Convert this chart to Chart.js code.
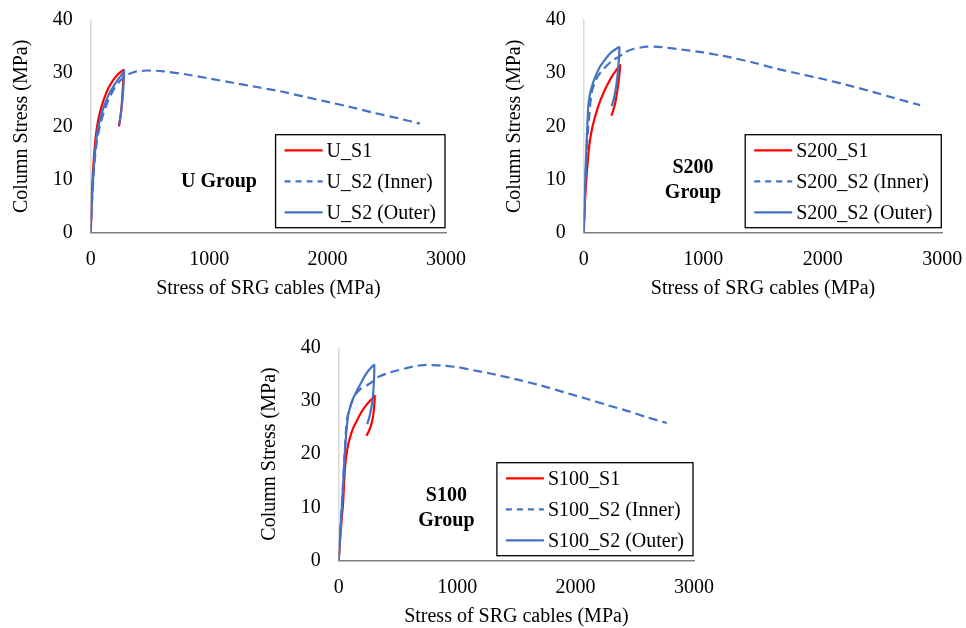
<!DOCTYPE html>
<html>
<head>
<meta charset="utf-8">
<script src="https://cdn.jsdelivr.net/npm/chart.js@4.4.1/dist/chart.umd.min.js"></script>
<style>
  body { margin: 0; background: #fff; width: 966px; height: 628px; position: relative; overflow: hidden; }
  canvas { position: absolute; }
</style>
</head>
<body>
<canvas id="cU" width="480" height="302" style="left:0px;top:0px"></canvas>
<canvas id="cS200" width="473" height="302" style="left:493px;top:0px"></canvas>
<canvas id="cS100" width="470" height="304" style="left:248px;top:325px"></canvas>
<script>
// axis ticks and titles
const xTicks = [0, 1000, 2000, 3000];
const yTicks = [0, 10, 20, 30, 40];
const xTitle = 'Stress of SRG cables (MPa)';
const yTitle = 'Column Stress (MPa)';

// U group  [SRG cable stress, column stress]
const uLabels = ['U_S1', 'U_S2 (Inner)', 'U_S2 (Outer)'];
const uS1 = [[0,0],[8,6],[18,11],[30,15],[45,18.5],[62,21],[85,23.2],[115,25.3],[150,27.2],[190,28.7],[230,29.8],[262,30.4],[278,30.6],[272,27.5],[262,24],[250,21.5],[238,20]];
const uInner = [[0,0],[12,6],[25,11],[40,15],[58,18],[80,20.3],[110,22.6],[150,25],[200,27.2],[250,28.6],[300,29.6],[380,30.3],[480,30.5],[600,30.4],[800,29.8],[1000,29],[1200,28.2],[1400,27.4],[1600,26.6],[1800,25.6],[2000,24.6],[2200,23.6],[2400,22.5],[2600,21.5],[2780,20.5]];
const uOuter = [[0,0],[10,6],[22,11],[36,15],[52,18.3],[70,20.5],[95,22.6],[125,24.5],[160,26.3],[200,27.8],[240,29.1],[270,30],[282,30.5],[278,28],[268,25],[255,22.5],[240,20.3]];

// S200 group
const s200Labels = ['S200_S1', 'S200_S2 (Inner)', 'S200_S2 (Outer)'];
const s200S1 = [[0,0],[11,6],[25,11],[40,15],[53,17.4],[72,19.8],[95,21.8],[128,24.2],[164,26.2],[200,27.9],[234,29.3],[270,30.5],[304,31.5],[295,29],[280,26.5],[260,24],[240,22.5],[231,22]];
const s200Inner = [[0,0],[10,7],[22,14],[35,19],[50,23],[65,26.2],[95,28.5],[130,29.8],[170,30.9],[234,32.3],[295,33.1],[350,34],[420,34.6],[527,35],[650,34.9],[800,34.5],[1000,33.9],[1200,33.1],[1400,32.1],[1600,30.9],[1800,29.9],[2000,28.9],[2200,27.8],[2400,26.6],[2600,25.3],[2814,24]];
const s200Outer = [[0,0],[8,6],[16,12],[25,17.4],[32,21],[38,23.7],[50,25.8],[67,27.4],[100,29.5],[136,31.2],[180,32.6],[220,33.7],[260,34.4],[298,34.9],[285,30],[268,27],[250,25],[234,23.8]];

// S100 group
const s100Labels = ['S100_S1', 'S100_S2 (Inner)', 'S100_S2 (Outer)'];
const s100S1 = [[0,0],[15,5],[28,8.5],[36,10.4],[44,13.8],[51,16.7],[62,19.3],[79,21.7],[100,23.4],[121,24.8],[150,26.1],[178,27.3],[205,28.3],[234,29.2],[265,30],[298,30.7],[304,30.9],[300,29],[290,27],[275,25.5],[255,24.3],[234,23.4]];
const s100Inner = [[0,0],[12,5],[25,10],[38,15],[50,20],[60,24],[70,26.4],[93,28.6],[120,30.2],[150,31.4],[190,32.3],[240,32.9],[290,33.6],[340,34.5],[420,35.2],[500,35.7],[572,36.1],[650,36.5],[741,36.7],[850,36.6],[1000,36.3],[1136,35.7],[1300,35],[1500,34],[1699,32.9],[1900,31.6],[2100,30.3],[2263,29.2],[2450,28],[2600,26.9],[2770,25.8]];
const s100Outer = [[0,0],[12,4.5],[24,9],[36,13.6],[44,17],[51,19.8],[58,22.2],[65,24.2],[79,27.3],[100,29],[121,30.4],[150,31.7],[178,32.9],[205,34],[234,35.1],[265,36],[300,36.7],[296,33],[285,30],[270,28],[255,26.6],[240,25.6]];

const groupNames = [['U Group'], ['S200', 'Group'], ['S100', 'Group']];

const FONT = "'Liberation Serif', 'Times New Roman', serif";
Chart.defaults.font.family = FONT;
Chart.defaults.font.size = 20;
Chart.defaults.color = '#000';

const RED = '#ff0000';
const BLUE = '#4472c4';

// legend drawn as a framed box in the lower right of the plot
const boxLegend = {
    id: 'boxLegend',
    afterDraw(chart) {
        const {ctx, chartArea: a} = chart;
        const sets = chart.data.datasets;
        ctx.save();
        ctx.font = '20px ' + FONT;
        let tw = 0;
        sets.forEach(d => { tw = Math.max(tw, ctx.measureText(d.label).width); });
        const w = 51 + tw + 9, h = 93;
        const right = a.right - 1, bottom = a.bottom - 5;
        const left = right - w, top = bottom - h;
        ctx.fillStyle = '#fff';
        ctx.fillRect(left, top, w, h);
        ctx.strokeStyle = '#000';
        ctx.lineWidth = 1.3;
        ctx.strokeRect(left, top, w, h);
        sets.forEach((d, i) => {
            const y = top + 15.7 + i * 31;
            ctx.beginPath();
            ctx.setLineDash(d.borderDash && d.borderDash.length ? [6, 5] : []);
            ctx.strokeStyle = d.borderColor;
            ctx.lineWidth = d.borderWidth;
            ctx.moveTo(left + 9, y);
            ctx.lineTo(left + 47, y);
            ctx.stroke();
            ctx.setLineDash([]);
            ctx.fillStyle = '#000';
            ctx.textAlign = 'left';
            ctx.textBaseline = 'middle';
            ctx.fillText(d.label, left + 51, y + 1);
        });
        ctx.restore();
    }
};

const groupLabel = {
    id: 'groupLabel',
    afterDraw(chart, args, opts) {
        const {ctx, chartArea: a} = chart;
        ctx.save();
        ctx.font = 'bold 20px ' + FONT;
        ctx.fillStyle = '#000';
        ctx.textAlign = 'center';
        ctx.textBaseline = 'middle';
        opts.lines.forEach((t, i) => ctx.fillText(t, a.left + opts.dx, a.top + opts.dy + i * 25));
        ctx.restore();
    }
};

function series(label, pts, color, dash, order) {
    return {
        label: label,
        data: pts.map(p => ({x: p[0], y: p[1]})),
        borderColor: color,
        borderWidth: 2.2,
        borderDash: dash,
        pointRadius: 0,
        showLine: true,
        tension: 0.15,
        fill: false,
        order: order
    };
}

function makeChart(id, labels, s1, inner, outer, group, pad) {
    return new Chart(document.getElementById(id), {
        type: 'scatter',
        data: {
            datasets: [
                series(labels[0], s1, RED, [], 2),
                series(labels[1], inner, BLUE, [9, 5], 1),
                series(labels[2], outer, BLUE, [], 0)
            ]
        },
        options: {
            responsive: false,
            animation: false,
            layout: { padding: pad },
            plugins: {
                legend: { display: false },
                tooltip: { enabled: false },
                groupLabel: group
            },
            scales: {
                x: {
                    type: 'linear',
                    min: 0,
                    max: 3000,
                    afterBuildTicks: s => { s.ticks = xTicks.map(v => ({value: v})); },
                    afterFit: s => { s.height = 68.3; s.paddingLeft = 0; s.paddingRight = 0; },
                    grid: { display: false, drawTicks: false },
                    border: { color: '#808080', width: 1.5 },
                    ticks: { padding: 15, maxRotation: 0, callback: v => String(v) },
                    title: { display: true, text: xTitle, padding: 0 }
                },
                y: {
                    type: 'linear',
                    min: 0,
                    max: 40,
                    afterBuildTicks: s => { s.ticks = yTicks.map(v => ({value: v})); },
                    afterFit: s => { s.width = 90.7; s.paddingTop = 0; s.paddingBottom = 0; },
                    grid: { display: false, drawTicks: false },
                    border: { color: '#d9d9d9', width: 1.5 },
                    ticks: { padding: 18, callback: v => String(v) },
                    title: { display: true, text: yTitle, padding: { top: 10, bottom: 0 } }
                }
            }
        },
        plugins: [boxLegend, groupLabel]
    });
}

makeChart('cU', uLabels, uS1, uInner, uOuter,
    { lines: groupNames[0], dx: 128.3, dy: 161.7 },
    { top: 20, right: 34, bottom: 1, left: 0 });
makeChart('cS200', s200Labels, s200S1, s200Inner, s200Outer,
    { lines: groupNames[1], dx: 109.3, dy: 148 },
    { top: 20, right: 23.7, bottom: 1, left: 0 });
makeChart('cS100', s100Labels, s100S1, s100Inner, s100Outer,
    { lines: groupNames[2], dx: 107.7, dy: 148.7 },
    { top: 22.3, right: 24, bottom: 0, left: 0 });
</script>
</body>
</html>
